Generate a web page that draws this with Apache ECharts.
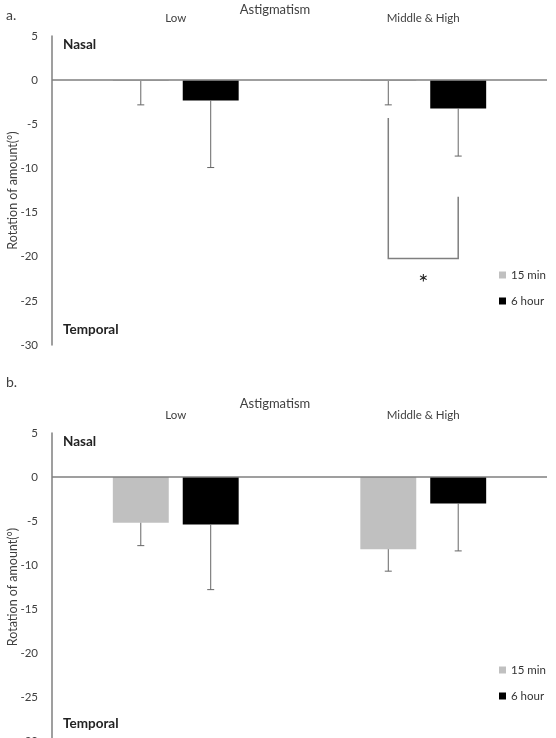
<!DOCTYPE html>
<html>
<head>
    <meta charset="utf-8">
    <title>Astigmatism rotation</title>
    <script src="https://cdn.jsdelivr.net/npm/echarts@6/dist/echarts.min.js"></script>
</head>
<body style="margin:0;background:#fff">
    <div id="c" style="width:556px;height:738px;"></div>
    <script>
        // categories + series
        var categories = ['Low', 'Middle & High'];
        var seriesNames = ['15 min', '6 hour'];
        var yTicks = { min: -30, max: 5, step: 5 };

        // panel a
        var a15 = [-0.1, -0.1];
        var a6h = [-2.3, -3.2];
        var a15Err = [2.7, 2.7];
        var a6hErr = [7.6, 5.4];
        // bracket on Middle & High: [category, left start, right start, bottom, star]
        var aBracket = [1, -4.3, -13.2, -20.2, -23.0];

        // panel b
        var b15 = [-5.2, -8.2];
        var b6h = [-5.4, -3.0];
        var b15Err = [2.6, 2.5];
        var b6hErr = [7.4, 5.4];

        var BAR_FRAC = 0.226;   // bar width / band
        var GAP = 0.25;         // barGap
        var GRAY = '#c0c0c0';
        var LINE = '#7f7f7f';
        var FONT = 'Lato, "Open Sans", sans-serif';

        function errSeries(vals, errs, side, gi) {
            return {
                type: 'custom',
                xAxisIndex: gi,
                yAxisIndex: gi,
                silent: true,
                z: 5,
                data: vals.map(function (v, i) { return [i, v, errs[i]]; }),
                renderItem: function (params, api) {
                    var band = api.size([1, 0])[0];
                    var off = side * band * BAR_FRAC * (1 + GAP) / 2;
                    var top = api.coord([api.value(0), api.value(1)]);
                    var bot = api.coord([api.value(0), api.value(1) - api.value(2)]);
                    var x = top[0] + off;
                    var st = { stroke: '#666', lineWidth: 1 };
                    return {
                        type: 'group',
                        children: [
                            { type: 'line', shape: { x1: x, y1: top[1], x2: x, y2: bot[1] }, style: st },
                            { type: 'line', shape: { x1: x - 3.5, y1: bot[1], x2: x + 3.5, y2: bot[1] }, style: st }
                        ]
                    };
                }
            };
        }

        function bracketSeries(br, gi) {
            return {
                type: 'custom',
                xAxisIndex: gi,
                yAxisIndex: gi,
                silent: true,
                z: 5,
                data: [br],
                renderItem: function (params, api) {
                    var band = api.size([1, 0])[0];
                    var off = band * BAR_FRAC * (1 + GAP) / 2;
                    var c = api.value(0);
                    var pL = api.coord([c, api.value(1)]);
                    var pR = api.coord([c, api.value(2)]);
                    var pB = api.coord([c, api.value(3)]);
                    var pS = api.coord([c, api.value(4)]);
                    return {
                        type: 'group',
                        children: [
                            {
                                type: 'polyline',
                                shape: { points: [
                                    [pL[0] - off, pL[1]], [pL[0] - off, pB[1]],
                                    [pR[0] + off, pB[1]], [pR[0] + off, pR[1]]
                                ] },
                                style: { stroke: LINE, lineWidth: 1.5, fill: null }
                            },
                            {
                                type: 'text',
                                x: pS[0], y: pS[1],
                                style: { text: '*', fontSize: 24, fill: '#222', align: 'center', verticalAlign: 'middle', fontFamily: FONT }
                            }
                        ]
                    };
                }
            };
        }

        var grids = [
            { left: 52, right: 9, top: 36, bottom: 393, outerBoundsMode: 'none', containLabel: false },
            { left: 52, right: 9, top: 433, bottom: -3, outerBoundsMode: 'none', containLabel: false }
        ];

        var xAxes = [], yAxes = [], series = [], legends = [];
        grids.forEach(function (g, gi) {
            xAxes.push({
                type: 'category', gridIndex: gi, data: categories, position: 'top',
                axisLine: { show: false }, axisTick: { show: false },
                axisLabel: { color: '#404040', fontSize: 11.5, margin: 12, fontFamily: FONT }
            });
            yAxes.push({
                type: 'value', gridIndex: gi, min: yTicks.min, max: yTicks.max, interval: yTicks.step,
                name: 'Rotation of amount(°)', nameLocation: 'middle', nameGap: 33,
                nameMoveOverlap: false,
                nameTextStyle: { color: '#404040', fontSize: 12.5, fontFamily: FONT },
                axisLine: { show: true, lineStyle: { color: LINE, width: 1.5 } },
                axisTick: { show: false },
                splitLine: { show: false },
                axisLabel: { color: '#404040', fontSize: 11.5, margin: 14, fontFamily: FONT }
            });
            legends.push({
                data: seriesNames, orient: 'vertical', left: 494, top: gi === 0 ? 264 : 659,
                itemWidth: 7, itemHeight: 7, itemGap: 14, icon: 'rect', selectedMode: false,
                textStyle: { color: '#333', fontSize: 11.5, fontFamily: FONT }
            });
        });

        var panels = [
            { v15: a15, v6: a6h, e15: a15Err, e6: a6hErr },
            { v15: b15, v6: b6h, e15: b15Err, e6: b6hErr }
        ];
        panels.forEach(function (p, gi) {
            series.push({
                name: seriesNames[0], type: 'bar', xAxisIndex: gi, yAxisIndex: gi,
                data: p.v15, barWidth: (BAR_FRAC * 100) + '%', barGap: (GAP * 100) + '%',
                itemStyle: { color: GRAY },
                // zero line across the panel
                markLine: {
                    silent: true, symbol: 'none', label: { show: false },
                    lineStyle: { color: LINE, width: 1.5, type: 'solid' },
                    data: [{ yAxis: 0 }]
                }
            });
            series.push({
                name: seriesNames[1], type: 'bar', xAxisIndex: gi, yAxisIndex: gi,
                data: p.v6, barWidth: (BAR_FRAC * 100) + '%', barGap: (GAP * 100) + '%',
                itemStyle: { color: '#000' }
            });
            series.push(errSeries(p.v15, p.e15, -1, gi));
            series.push(errSeries(p.v6, p.e6, 1, gi));
        });
        series.push(bracketSeries(aBracket, 0));

        function txt(x, y, s, size, bold, align) {
            return {
                type: 'text', x: x, y: y, z: 10,
                style: {
                    text: s, fontSize: size, fontWeight: bold ? 'bold' : 'normal',
                    fill: bold ? '#222' : '#404040', fontFamily: FONT,
                    align: align || 'left', verticalAlign: 'middle'
                }
            };
        }

        var myChart = echarts.init(document.getElementById('c'));
        myChart.setOption({
            animation: false,
            backgroundColor: '#fff',
            grid: grids,
            xAxis: xAxes,
            yAxis: yAxes,
            legend: legends,
            series: series,
            graphic: [
                txt(6, 15, 'a.', 14, false),
                txt(275, 10, 'Astigmatism', 13, false, 'center'),
                txt(63, 45, 'Nasal', 13.5, true),
                txt(63, 330, 'Temporal', 13.5, true),
                txt(6, 382, 'b.', 14, false),
                txt(275, 404, 'Astigmatism', 13, false, 'center'),
                txt(63, 442, 'Nasal', 13.5, true),
                txt(63, 724, 'Temporal', 13.5, true)
            ]
        });
    </script>
</body>
</html>
